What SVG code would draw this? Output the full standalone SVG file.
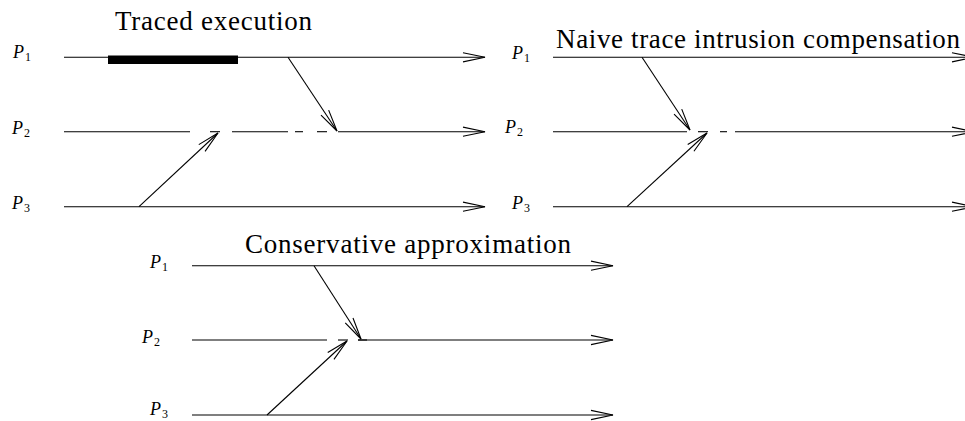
<svg xmlns="http://www.w3.org/2000/svg" width="965" height="421" viewBox="0 0 965 421">
<style>
.ln{stroke:#000;stroke-width:1.1;fill:none}
.ar{stroke:#000;stroke-width:1.1;fill:none;marker-end:url(#ah)}
.ttl{font-family:"Liberation Serif","Times New Roman",serif;font-size:27px;fill:#000}
.lb{font-family:"Liberation Serif","Times New Roman",serif;font-size:18px;font-style:italic;fill:#000}
.sb{font-size:12px;font-style:normal}
</style>
<defs>
<marker id="ah" viewBox="-24 -6 26 12" markerWidth="26" markerHeight="12" refX="0" refY="0" orient="auto" markerUnits="userSpaceOnUse">
<path d="M-22,-4.6 L0,0 L-22,4.6" fill="none" stroke="#000" stroke-width="1.1"/>
</marker>
</defs>
<rect width="965" height="421" fill="#fff"/>

<g id="panel1">
<text class="ttl" x="115" y="30" textLength="197">Traced execution</text>
<g id="p1-P1"><text class="lb" x="13" y="58">P<tspan class="sb" dx="1" dy="3">1</tspan></text></g>
<g id="p1-P2"><text class="lb" x="12" y="134">P<tspan class="sb" dx="1" dy="3">2</tspan></text></g>
<g id="p1-P3"><text class="lb" x="12" y="209">P<tspan class="sb" dx="1" dy="3">3</tspan></text></g>
<rect id="p1-bar" x="108" y="55.5" width="130" height="8.5" fill="#000"/>
<g id="p1-lines">
<line class="ar" x1="64" y1="57.3" x2="485" y2="57.3"/>
<line class="ln" x1="64" y1="131.7" x2="190" y2="131.7"/>
<line class="ln" x1="210" y1="131.7" x2="220" y2="131.7"/>
<line class="ln" x1="232" y1="131.7" x2="288" y2="131.7"/>
<line class="ln" x1="295" y1="131.7" x2="303" y2="131.7"/>
<line class="ln" x1="317" y1="131.7" x2="327" y2="131.7"/>
<line class="ar" x1="338" y1="131.7" x2="485" y2="131.7"/>
<line class="ar" x1="64" y1="206.7" x2="485" y2="206.7"/>
</g>
<g id="p1-msgs">
<line class="ar" x1="288" y1="57.3" x2="337" y2="131"/>
<line class="ar" x1="139" y1="206.7" x2="218" y2="133"/>
</g>
</g>

<g id="panel2">
<text class="ttl" x="556" y="48" textLength="404">Naive trace intrusion compensation</text>
<g id="p2-P1"><text class="lb" x="512" y="59">P<tspan class="sb" dx="1" dy="3">1</tspan></text></g>
<g id="p2-P2"><text class="lb" x="505" y="133">P<tspan class="sb" dx="1" dy="3">2</tspan></text></g>
<g id="p2-P3"><text class="lb" x="512" y="209">P<tspan class="sb" dx="1" dy="3">3</tspan></text></g>
<g id="p2-lines">
<line class="ar" x1="553" y1="57.3" x2="974" y2="57.3"/>
<line class="ln" x1="553" y1="131.7" x2="687" y2="131.7"/>
<line class="ln" x1="698" y1="131.7" x2="708" y2="131.7"/>
<line class="ln" x1="720" y1="131.7" x2="727" y2="131.7"/>
<line class="ar" x1="735" y1="131.7" x2="974" y2="131.7"/>
<line class="ar" x1="553" y1="206.7" x2="974" y2="206.7"/>
</g>
<g id="p2-msgs">
<line class="ar" x1="642" y1="57.3" x2="690" y2="130"/>
<line class="ar" x1="627" y1="206.7" x2="707" y2="133"/>
</g>
</g>

<g id="panel3">
<text class="ttl" x="245" y="253" textLength="326">Conservative approximation</text>
<g id="p3-P1"><text class="lb" x="150" y="268">P<tspan class="sb" dx="1" dy="3">1</tspan></text></g>
<g id="p3-P2"><text class="lb" x="142" y="343">P<tspan class="sb" dx="1" dy="3">2</tspan></text></g>
<g id="p3-P3"><text class="lb" x="150" y="415">P<tspan class="sb" dx="1" dy="3">3</tspan></text></g>
<g id="p3-lines">
<line class="ar" x1="192" y1="265.7" x2="613" y2="265.7"/>
<line class="ln" x1="192" y1="340" x2="327" y2="340"/>
<line class="ln" x1="338" y1="340" x2="348" y2="340"/>
<line class="ar" x1="358" y1="340" x2="613" y2="340"/>
<line class="ln" x1="358" y1="340" x2="367" y2="340" stroke-width="1.6"/>
<line class="ar" x1="192" y1="415" x2="613" y2="415"/>
</g>
<g id="p3-msgs">
<line class="ar" x1="314" y1="265.7" x2="361" y2="339"/>
<line class="ar" x1="267" y1="415" x2="347" y2="341"/>
</g>
</g>
</svg>
